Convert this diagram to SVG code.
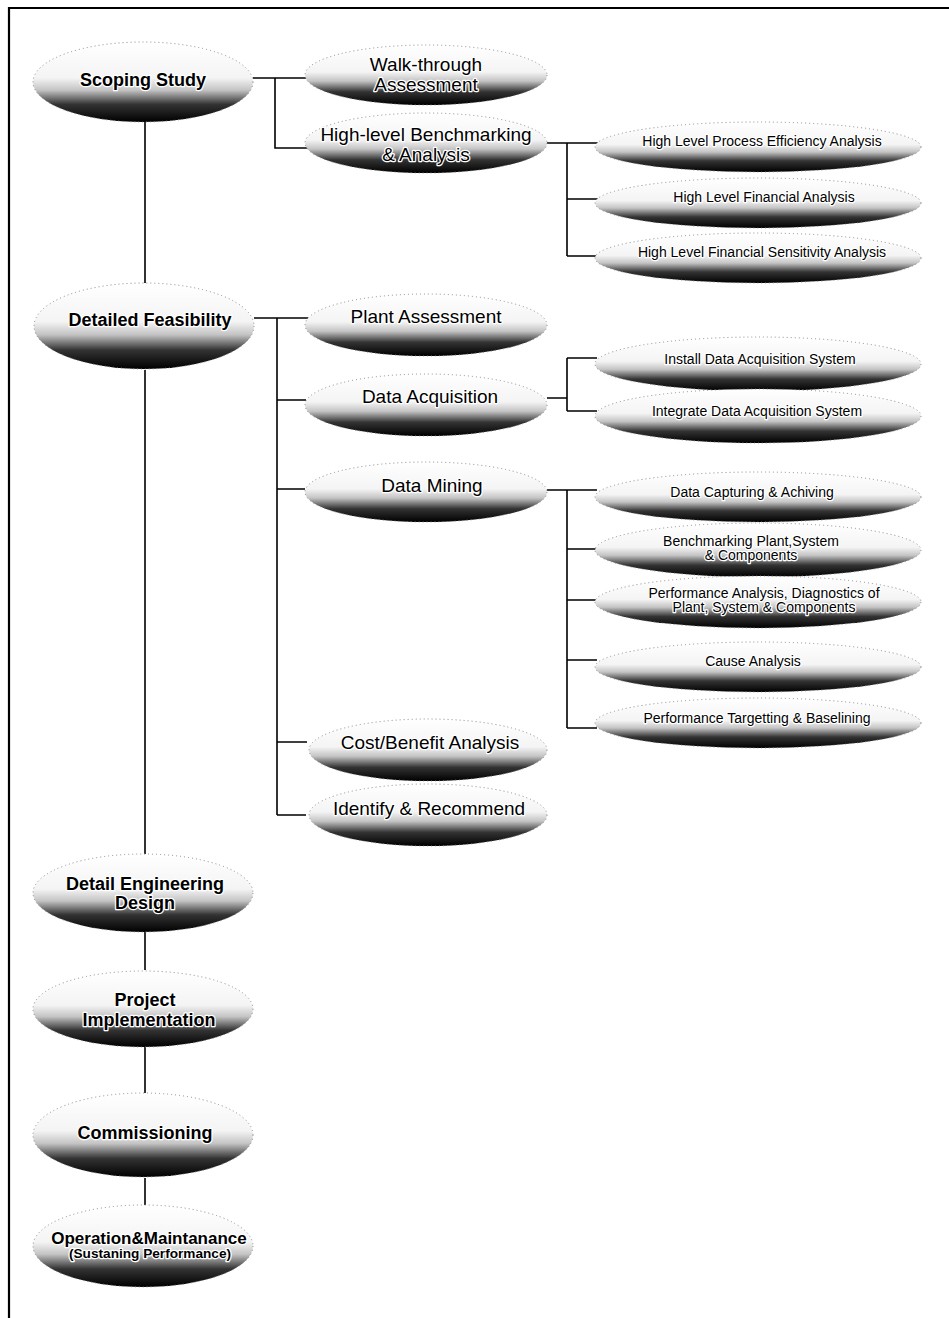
<svg xmlns="http://www.w3.org/2000/svg" width="949" height="1318" viewBox="0 0 949 1318">
<defs>
<linearGradient id="g" x1="0" y1="0" x2="0" y2="1">
<stop offset="0" stop-color="#ffffff"/>
<stop offset="0.45" stop-color="#f4f4f4"/>
<stop offset="0.6" stop-color="#c4c4c4"/>
<stop offset="0.78" stop-color="#333333"/>
<stop offset="1" stop-color="#000000"/>
</linearGradient>
</defs>
<style>
.e{fill:url(#g);stroke:#8a8a8a;stroke-width:1;stroke-dasharray:1 3}
.c{fill:none;stroke:#000;stroke-width:1.6}
.f{fill:none;stroke:#000;stroke-width:2.2}
text{font-family:"Liberation Sans",Arial,sans-serif;fill:#000;text-anchor:middle;stroke:#fff;stroke-width:2.5;paint-order:stroke;stroke-linejoin:round}
.L{font-size:18px;font-weight:bold}
.M{font-size:19px}
.R{font-size:14px}
.S{font-size:13px;font-weight:bold}
</style>
<g id="frame">
<path class="f" d="M9 1318 V8 H949"/>
</g>
<g id="connectors">
<path class="c" d="M253 78 H310 M275 78 V148 H308"/>
<path class="c" d="M547 143 H567 M567 143 V256 M567 143 H598 M567 199 H598 M567 256 H598"/>
<path class="c" d="M254 318 H308 M277 318 V815 M277 400 H306 M277 489 H305 M277 742 H307 M277 815 H306"/>
<path class="c" d="M547 398 H567 M567 358 V411 M567 358 H597 M567 411 H597"/>
<path class="c" d="M547 490 H567 M567 490 V728 M567 490 H597 M567 549 H597 M567 600 H597 M567 660 H597 M567 728 H597"/>
<path class="c" d="M145 122 V283 M145 370 V855 M145 932 V970 M145 1046 V1093 M145 1178 V1205"/>
</g>
<g id="n-scoping"><ellipse class="e" cx="143" cy="82" rx="110" ry="40"/><text class="L" x="143" y="86">Scoping Study</text></g>
<g id="n-walk"><ellipse class="e" cx="426" cy="75" rx="121" ry="30"/><text class="M" x="426" y="71">Walk-through</text><text class="M" x="426" y="91">Assessment</text></g>
<g id="n-hlbench"><ellipse class="e" cx="426" cy="143" rx="121" ry="30"/><text class="M" x="426" y="141">High-level Benchmarking</text><text class="M" x="426" y="161">&amp; Analysis</text></g>
<g id="n-hlproc"><ellipse class="e" cx="758" cy="147" rx="163" ry="25"/><text class="R" x="762" y="146">High Level Process Efficiency Analysis</text></g>
<g id="n-hlfin"><ellipse class="e" cx="758" cy="203" rx="163" ry="25"/><text class="R" x="764" y="202">High Level Financial Analysis</text></g>
<g id="n-hlsens"><ellipse class="e" cx="758" cy="258" rx="163" ry="25"/><text class="R" x="762" y="257">High Level Financial Sensitivity Analysis</text></g>
<g id="n-detfeas"><ellipse class="e" cx="144" cy="326" rx="110" ry="43"/><text class="L" x="150" y="326">Detailed Feasibility</text></g>
<g id="n-plant"><ellipse class="e" cx="426" cy="325" rx="121" ry="31"/><text class="M" x="426" y="323">Plant Assessment</text></g>
<g id="n-dacq"><ellipse class="e" cx="426" cy="405" rx="121" ry="31"/><text class="M" x="430" y="403">Data Acquisition</text></g>
<g id="n-install"><ellipse class="e" cx="758" cy="364" rx="163" ry="27"/><text class="R" x="760" y="364">Install Data Acquisition System</text></g>
<g id="n-integrate"><ellipse class="e" cx="758" cy="416" rx="163" ry="27"/><text class="R" x="757" y="416">Integrate Data Acquisition System</text></g>
<g id="n-dmining"><ellipse class="e" cx="426" cy="492" rx="121" ry="30"/><text class="M" x="432" y="492">Data Mining</text></g>
<g id="n-capture"><ellipse class="e" cx="758" cy="497" rx="163" ry="25"/><text class="R" x="752" y="497">Data Capturing &amp; Achiving</text></g>
<g id="n-bench"><ellipse class="e" cx="758" cy="550" rx="163" ry="27"/><text class="R" x="751" y="546">Benchmarking Plant,System</text><text class="R" x="751" y="560">&amp; Components</text></g>
<g id="n-perf"><ellipse class="e" cx="758" cy="602" rx="163" ry="26"/><text class="R" x="764" y="598">Performance Analysis, Diagnostics of</text><text class="R" x="764" y="612">Plant, System &amp; Components</text></g>
<g id="n-cause"><ellipse class="e" cx="758" cy="667" rx="163" ry="25"/><text class="R" x="753" y="666">Cause Analysis</text></g>
<g id="n-target"><ellipse class="e" cx="758" cy="723" rx="163" ry="25"/><text class="R" x="757" y="723">Performance Targetting &amp; Baselining</text></g>
<g id="n-costben"><ellipse class="e" cx="428" cy="750" rx="119" ry="31"/><text class="M" x="430" y="749">Cost/Benefit Analysis</text></g>
<g id="n-identify"><ellipse class="e" cx="428" cy="815" rx="119" ry="31"/><text class="M" x="429" y="815">Identify &amp; Recommend</text></g>
<g id="n-deteng"><ellipse class="e" cx="143" cy="893" rx="110" ry="39"/><text class="L" x="145" y="890">Detail Engineering</text><text class="L" x="145" y="909">Design</text></g>
<g id="n-projimpl"><ellipse class="e" cx="143" cy="1009" rx="110" ry="38"/><text class="L" x="145" y="1006">Project</text><text class="L" x="149" y="1026">Implementation</text></g>
<g id="n-comm"><ellipse class="e" cx="143" cy="1135" rx="110" ry="42"/><text class="L" x="145" y="1139">Commissioning</text></g>
<g id="n-om"><ellipse class="e" cx="143" cy="1246" rx="110" ry="41"/><text class="L" x="149" y="1244" style="font-size:17px">Operation&amp;Maintanance</text><text class="S" x="150" y="1258" textLength="162" lengthAdjust="spacingAndGlyphs">(Sustaning Performance)</text></g>
</svg>
